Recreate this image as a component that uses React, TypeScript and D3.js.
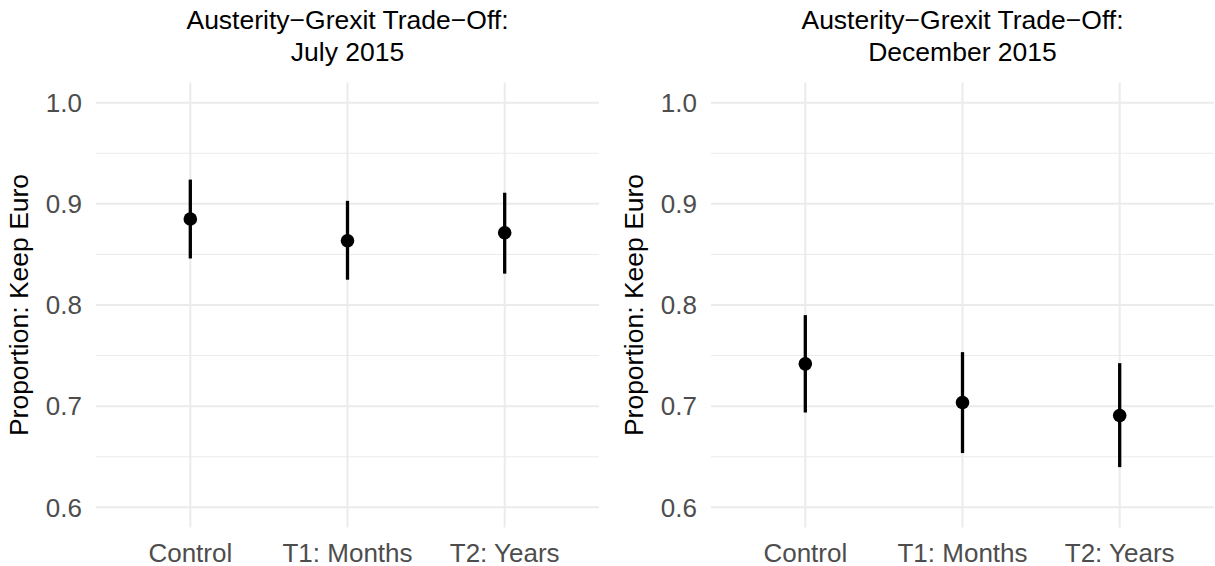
import React from "react";
import * as d3 from "d3";

const categories = ["Control", "T1: Months", "T2: Years"];
const julyMean = [0.885, 0.8635, 0.8715];
const julyLower = [0.846, 0.825, 0.831];
const julyUpper = [0.924, 0.903, 0.911];
const decMean = [0.7418, 0.7036, 0.6907];
const decLower = [0.6937, 0.6536, 0.6397];
const decUpper = [0.79, 0.7534, 0.7425];
const yTicks = [0.6, 0.7, 0.8, 0.9, 1.0];
const yMinor = [0.65, 0.75, 0.85, 0.95];
const titlesLine1 = ["Austerity\u2212Grexit Trade\u2212Off:", "Austerity\u2212Grexit Trade\u2212Off:"];
const titlesLine2 = ["July 2015", "December 2015"];
const yLabel = "Proportion: Keep Euro";

const W = 1215;
const H = 566;
const FONT = "'Liberation Sans', Arial, Helvetica, sans-serif";

type PanelProps = {
  x0: number;
  x1: number;
  mean: number[];
  lower: number[];
  upper: number[];
  t1: string;
  t2: string;
};

function Panel({ x0, x1, mean, lower, upper, t1, t2 }: PanelProps) {
  const top = 82.5;
  const bottom = 527.5;
  const x = d3.scalePoint<string>().domain(categories).range([x0, x1]).padding(0.6);
  const y = d3.scaleLinear().domain([0.58, 1.02]).range([bottom, top]);
  const cx = (x0 + x1) / 2;
  return (
    <g>
      {yMinor.map((v) => (
        <line key={"mn" + v} x1={x0} x2={x1} y1={y(v)} y2={y(v)} stroke="#EBEBEB" strokeWidth={1.1} />
      ))}
      {yTicks.map((v) => (
        <line key={"mj" + v} x1={x0} x2={x1} y1={y(v)} y2={y(v)} stroke="#EBEBEB" strokeWidth={2} />
      ))}
      {categories.map((c) => (
        <line key={"vx" + c} x1={x(c)!} x2={x(c)!} y1={top} y2={bottom} stroke="#EBEBEB" strokeWidth={2} />
      ))}
      {yTicks.map((v) => (
        <text
          key={"yt" + v}
          x={x0 - 14}
          y={y(v)}
          dy="0.36em"
          textAnchor="end"
          fontSize={26}
          fill="#4D4D4D"
          fontFamily={FONT}
        >
          {v.toFixed(1)}
        </text>
      ))}
      {categories.map((c) => (
        <text
          key={"xt" + c}
          x={x(c)!}
          y={561.5}
          textAnchor="middle"
          fontSize={26}
          fill="#4D4D4D"
          fontFamily={FONT}
        >
          {c}
        </text>
      ))}
      <text
        transform={`translate(${x0 - 68},${(top + bottom) / 2}) rotate(-90)`}
        textAnchor="middle"
        fontSize={26.5}
        fill="#000"
        fontFamily={FONT}
      >
        {yLabel}
      </text>
      <text x={cx} y={29} textAnchor="middle" fontSize={26.5} fill="#000" fontFamily={FONT}>
        {t1}
      </text>
      <text x={cx} y={61} textAnchor="middle" fontSize={26.5} fill="#000" fontFamily={FONT}>
        {t2}
      </text>
      {categories.map((c, i) => (
        <g key={"pt" + c}>
          <line x1={x(c)!} x2={x(c)!} y1={y(lower[i])} y2={y(upper[i])} stroke="#000" strokeWidth={3.3} />
          <circle cx={x(c)!} cy={y(mean[i])} r={6.8} fill="#000" />
        </g>
      ))}
    </g>
  );
}

export default function App() {
  return (
    <div style={{ position: "absolute", left: 0, top: 0 }}>
      <svg width={W} height={H} style={{ display: "block", background: "#fff" }}>
        <rect width={W} height={H} fill="#fff" />
        <Panel x0={96} x1={599} mean={julyMean} lower={julyLower} upper={julyUpper} t1={titlesLine1[0]} t2={titlesLine2[0]} />
        <Panel x0={711} x1={1214} mean={decMean} lower={decLower} upper={decUpper} t1={titlesLine1[1]} t2={titlesLine2[1]} />
      </svg>
    </div>
  );
}
